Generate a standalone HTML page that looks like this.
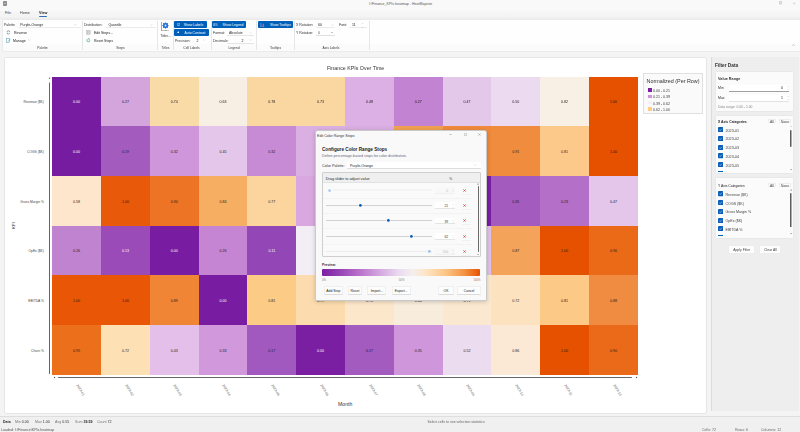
<!DOCTYPE html>
<html><head><meta charset="utf-8"><title>HeatMapster</title><style>*{box-sizing:border-box;margin:0;padding:0}
html,body{width:800px;height:432px;overflow:hidden}
body{position:relative;background:#f4f4f4;font-family:"Liberation Sans",sans-serif;color:#1b1b1b;font-size:3.5px}
.a{position:absolute;white-space:nowrap;line-height:1}
.b{position:absolute}
.chev{position:absolute;width:1.8px;height:1.8px;border-right:0.4px solid #777;border-bottom:0.4px solid #777;transform:rotate(45deg)}
.xlab{position:absolute;font-size:3.5px;color:#555;white-space:nowrap;line-height:1;transform-origin:0 0;transform:rotate(60deg)}
</style></head><body>
<div id="root" style="position:absolute;left:0;top:0;width:800px;height:432px;filter:blur(0.3px)"><div class="b" style="left:0.00px;top:0.00px;width:800.00px;height:11.00px;background:#f9f9f9"></div>
<div class="b" style="left:0.00px;top:11.00px;width:800.00px;height:8.00px;background:linear-gradient(#f6f6f6,#f4f4f4 70%,#ececec)"></div>
<div class="b" style="left:2.60px;top:1.40px;width:4.40px;height:4.20px;background:#8e8e8e;border-radius:0.8px"></div>
<div class="b" style="left:3.80px;top:2.60px;width:2.00px;height:1.80px;background:#bdbdbd"></div>
<div class="a" style="left:369.00px;top:3.37px;font-size:3.56px;color:#555;">I:\Finance_KPIs.heatmap - HeatMapster</div>
<svg class="b" style="left:779px;top:1.4px" width="2.8" height="3.4" viewBox="0 0 28 34"><rect x="3" y="3" width="22" height="28" rx="3" fill="#e4e4e4" stroke="#a8a8a8" stroke-width="4"/></svg>
<svg class="b" style="left:793.4px;top:1.6px" width="3" height="3" viewBox="0 0 30 30"><path d="M4 3V27" stroke="#c8c8c8" stroke-width="4"/><path d="M9 4L26 15 9 26Z" fill="#cfcfcf"/></svg>
<div class="a" style="left:5.00px;top:12.07px;font-size:3.7px;color:#444;">File</div>
<div class="a" style="left:20.00px;top:12.07px;font-size:3.7px;color:#444;">Home</div>
<div class="a" style="left:39.00px;top:12.07px;font-size:3.7px;color:#1a1a1a;font-weight:bold;">View</div>
<div class="b" style="left:39.20px;top:16.20px;width:7.60px;height:0.80px;background:#2f6db5;border-radius:0.4px"></div>
<div class="b" style="left:2.00px;top:19.00px;width:800.00px;height:33.00px;background:linear-gradient(#fefefe,#fefefe 74%,#fbfbfb 80%,#fbfbfb);border:1px solid #ebebeb;border-radius:2px"></div>
<div class="a" style="left:4.00px;top:24.17px;font-size:3.5px;color:#333;">Palette</div>
<div class="b" style="left:18.00px;top:21.80px;width:63.00px;height:6.40px;background:#fff;border-bottom:0.5px solid #ebebeb;border-radius:0.8px"></div>
<div class="a" style="left:20.20px;top:24.17px;font-size:3.5px;color:#222;">Purple-Orange</div>
<svg class="b" style="left:74.10px;top:23.60px" width="2.8" height="2" viewBox="0 0 28 20"><path d="M3 5l11 10 11-10" fill="none" stroke="#888" stroke-width="3"/></svg>
<svg class="b" style="left:5.6px;top:30.2px" width="4.8" height="4.8" viewBox="0 0 48 48"><path d="M9 22A15 15 0 0 1 38 17" fill="none" stroke="#6a6a6a" stroke-width="6"/><path d="M39 26A15 15 0 0 1 10 31" fill="none" stroke="#3d8ea8" stroke-width="6"/><path d="M33 9l7 9-10 2z" fill="#6a6a6a"/><path d="M15 39l-7-9 10-2z" fill="#3d8ea8"/></svg>
<div class="a" style="left:14.00px;top:32.37px;font-size:3.5px;">Reverse</div>
<svg class="b" style="left:5.5px;top:38.2px" width="5" height="5" viewBox="0 0 10 10"><rect x="1" y="1.5" width="6.5" height="7" fill="none" stroke="#3a8fb0" stroke-width="0.9"/><path d="M4 7l4.5-4.5" stroke="#2a9a9a" stroke-width="1.2"/></svg>
<div class="a" style="left:13.00px;top:40.37px;font-size:3.5px;">Manage</div>
<svg class="b" style="left:28.10px;top:39.30px" width="2.8" height="2" viewBox="0 0 28 20"><path d="M3 5l11 10 11-10" fill="none" stroke="#999" stroke-width="3"/></svg>
<div class="a" style="left:42.50px;top:47.07px;font-size:3.3px;color:#3a3a3a;transform:translateX(-50%);">Palette</div>
<div class="b" style="left:82.40px;top:21.00px;width:0.60px;height:29.00px;background:#e6e6e6"></div>
<div class="a" style="left:84.00px;top:24.17px;font-size:3.5px;color:#333;">Distribution:</div>
<div class="b" style="left:106.00px;top:21.80px;width:50.00px;height:6.40px;background:#fff;border-bottom:0.5px solid #ebebeb;border-radius:0.8px"></div>
<div class="a" style="left:108.40px;top:24.17px;font-size:3.5px;color:#222;">Quantile</div>
<svg class="b" style="left:149.80px;top:23.60px" width="2.8" height="2" viewBox="0 0 28 20"><path d="M3 5l11 10 11-10" fill="none" stroke="#aaa" stroke-width="3"/></svg>
<svg class="b" style="left:85.6px;top:30.2px" width="5" height="5" viewBox="0 0 10 10"><rect x="1" y="1" width="3" height="8" fill="#cfcfcf" stroke="#999" stroke-width="0.5"/><rect x="5.5" y="1" width="3" height="8" fill="#cfcfcf" stroke="#999" stroke-width="0.5"/></svg>
<div class="a" style="left:94.00px;top:32.37px;font-size:3.5px;">Edit Steps...</div>
<svg class="b" style="left:85.6px;top:38.2px" width="5" height="5" viewBox="0 0 10 10"><path d="M7.8 4.4a3 3 0 1 1-1.2-2.2" fill="none" stroke="#2aa05a" stroke-width="1.2"/><path d="M5.3 0.8l1.9 1.5-1.7 1.5" fill="none" stroke="#2aa05a" stroke-width="1"/></svg>
<div class="a" style="left:94.00px;top:40.37px;font-size:3.5px;">Reset Steps</div>
<div class="a" style="left:120.50px;top:47.07px;font-size:3.3px;color:#3a3a3a;transform:translateX(-50%);">Steps</div>
<div class="b" style="left:157.40px;top:21.00px;width:0.60px;height:29.00px;background:#e6e6e6"></div>
<div class="b" style="left:161.30px;top:21.80px;width:1.00px;height:8.60px;background:#a8a8a8"></div>
<svg class="b" style="left:161.3px;top:29.6px" width="8" height="1.2" viewBox="0 0 80 12"><path d="M2 6H78" stroke="#555" stroke-width="8" stroke-dasharray="8 5"/></svg>
<svg class="b" style="left:162.4px;top:22.3px" width="7" height="7" viewBox="0 0 70 70"><g fill="#1c6fd1" transform="translate(35 35)"><circle r="25"/><rect x="-6" y="-31" width="12" height="14" rx="3" transform="rotate(0)"/><rect x="-6" y="-31" width="12" height="14" rx="3" transform="rotate(45)"/><rect x="-6" y="-31" width="12" height="14" rx="3" transform="rotate(90)"/><rect x="-6" y="-31" width="12" height="14" rx="3" transform="rotate(135)"/><rect x="-6" y="-31" width="12" height="14" rx="3" transform="rotate(180)"/><rect x="-6" y="-31" width="12" height="14" rx="3" transform="rotate(225)"/><rect x="-6" y="-31" width="12" height="14" rx="3" transform="rotate(270)"/><rect x="-6" y="-31" width="12" height="14" rx="3" transform="rotate(315)"/></g><circle cx="35" cy="35" r="9" fill="#e8f0fb"/></svg>
<div class="a" style="left:160.20px;top:34.87px;font-size:3.3px;color:#333;">Titles...</div>
<div class="a" style="left:165.50px;top:47.07px;font-size:3.3px;color:#3a3a3a;transform:translateX(-50%);">Titles</div>
<div class="b" style="left:172.50px;top:21.00px;width:0.60px;height:29.00px;background:#e6e6e6"></div>
<div class="b" style="left:174.20px;top:21.30px;width:32.50px;height:6.45px;background:#005fb8;border-radius:1px"></div>
<div class="a" style="left:183.70px;top:24.40px;font-size:3.4px;color:#fff;">Show Labels</div>
<svg class="b" style="left:176.8px;top:23.2px" width="3.4" height="3" viewBox="0 0 34 30"><rect x="3" y="3" width="28" height="24" rx="4" fill="none" stroke="#fff" stroke-width="4"/><path d="M9 15l5 5 10-10" fill="none" stroke="#fff" stroke-width="4"/></svg>
<div class="b" style="left:174.20px;top:29.20px;width:35.30px;height:6.45px;background:#005fb8;border-radius:1px"></div>
<div class="a" style="left:184.60px;top:32.29px;font-size:3.4px;color:#fff;">Auto Contrast</div>
<svg class="b" style="left:176.6px;top:30.5px" width="2.6" height="2.6" viewBox="0 0 26 26"><circle cx="13" cy="13" r="9" fill="#fff"/></svg>
<div class="a" style="left:175.00px;top:40.47px;font-size:3.5px;color:#333;">Precision:</div>
<div class="a" style="left:196.60px;top:40.47px;font-size:3.5px;">2</div>
<svg class="b" style="left:203.10px;top:39.40px" width="2.8" height="2" viewBox="0 0 28 20"><path d="M3 5l11 10 11-10" fill="none" stroke="#aaa" stroke-width="3"/></svg>
<div class="a" style="left:191.50px;top:47.07px;font-size:3.3px;color:#3a3a3a;transform:translateX(-50%);">Cell Labels</div>
<div class="b" style="left:210.60px;top:21.00px;width:0.60px;height:29.00px;background:#e6e6e6"></div>
<div class="b" style="left:212.00px;top:21.20px;width:34.30px;height:6.50px;background:#005fb8;border-radius:1px"></div>
<div class="a" style="left:222.60px;top:24.32px;font-size:3.4px;color:#fff;">Show Legend</div>
<svg class="b" style="left:213.4px;top:22.6px" width="4.4" height="3.8" viewBox="0 0 44 38"><rect x="3" y="3" width="38" height="32" rx="3" fill="none" stroke="#dfe9f7" stroke-width="3.5"/><path d="M14 3V35M3 14H41M3 25H41" stroke="#dfe9f7" stroke-width="3"/></svg>
<div class="a" style="left:213.00px;top:32.37px;font-size:3.5px;color:#333;">Format:</div>
<div class="b" style="left:227.00px;top:29.60px;width:27.00px;height:6.10px;background:transparent;border-bottom:0.5px solid #e4e4e4;border-radius:0.8px"></div>
<div class="a" style="left:229.00px;top:32.37px;font-size:3.5px;color:#333;">Absolute</div>
<svg class="b" style="left:249.10px;top:31.50px" width="2.8" height="2" viewBox="0 0 28 20"><path d="M3 5l11 10 11-10" fill="none" stroke="#aaa" stroke-width="3"/></svg>
<div class="a" style="left:213.00px;top:40.37px;font-size:3.5px;color:#333;">Decimals:</div>
<div class="b" style="left:227.00px;top:37.60px;width:27.00px;height:6.10px;background:transparent;border-bottom:0.5px solid #e4e4e4;border-radius:0.8px"></div>
<div class="a" style="left:241.60px;top:40.37px;font-size:3.5px;">2</div>
<svg class="b" style="left:249.10px;top:39.20px" width="2.8" height="2" viewBox="0 0 28 20"><path d="M3 5l11 10 11-10" fill="none" stroke="#aaa" stroke-width="3"/></svg>
<div class="a" style="left:234.00px;top:47.07px;font-size:3.3px;color:#3a3a3a;transform:translateX(-50%);">Legend</div>
<div class="b" style="left:256.40px;top:21.00px;width:0.60px;height:29.00px;background:#e6e6e6"></div>
<div class="b" style="left:258.00px;top:21.20px;width:34.80px;height:6.50px;background:#005fb8;border-radius:1px"></div>
<div class="a" style="left:270.00px;top:24.32px;font-size:3.4px;color:#fff;">Show Tooltips</div>
<svg class="b" style="left:259.8px;top:21.8px" width="5" height="5.4" viewBox="0 0 10 11"><rect x="1" y="2" width="1.5" height="8" fill="#6ab0f0"/><rect x="3.5" y="5" width="1.5" height="5" fill="#e04a6a"/><rect x="6" y="3.5" width="1.5" height="6.5" fill="#40c0a0"/><path d="M1 10h8" stroke="#ccc" stroke-width="0.6"/></svg>
<div class="a" style="left:275.50px;top:47.07px;font-size:3.3px;color:#3a3a3a;transform:translateX(-50%);">Tooltips</div>
<div class="b" style="left:294.30px;top:21.00px;width:0.60px;height:29.00px;background:#e6e6e6"></div>
<div class="a" style="left:296.00px;top:24.17px;font-size:3.5px;color:#333;">X Rotation:</div>
<div class="b" style="left:316.00px;top:22.00px;width:18.50px;height:6.30px;background:#fff;border-bottom:0.5px solid #ebebeb;border-radius:0.8px"></div>
<div class="a" style="left:318.00px;top:24.17px;font-size:3.5px;">60</div>
<svg class="b" style="left:330.90px;top:23.60px" width="2.8" height="2" viewBox="0 0 28 20"><path d="M3 5l11 10 11-10" fill="none" stroke="#aaa" stroke-width="3"/></svg>
<div class="a" style="left:339.00px;top:24.17px;font-size:3.5px;color:#333;">Font:</div>
<div class="b" style="left:349.00px;top:22.00px;width:18.00px;height:6.30px;background:#fff;border-bottom:0.5px solid #ebebeb;border-radius:0.8px"></div>
<div class="a" style="left:352.00px;top:24.17px;font-size:3.5px;">11</div>
<div class="a" style="left:362.00px;top:22.00px;font-size:2.2px;color:#999;">&#x2C4;</div>
<div class="a" style="left:362.00px;top:25.60px;font-size:2.2px;color:#999;">&#x2C5;</div>
<div class="a" style="left:296.00px;top:32.37px;font-size:3.5px;color:#333;">Y Rotation:</div>
<div class="b" style="left:316.00px;top:29.60px;width:18.50px;height:6.30px;background:transparent;border-bottom:0.5px solid #dedede;border-radius:0.8px"></div>
<div class="a" style="left:318.00px;top:32.37px;font-size:3.5px;color:#555;">0</div>
<div class="b" style="left:330.60px;top:32.00px;width:2.60px;height:1.00px;background:#c4c4c4"></div>
<div class="a" style="left:331.00px;top:47.07px;font-size:3.3px;color:#3a3a3a;transform:translateX(-50%);">Axis Labels</div>
<div class="b" style="left:369.20px;top:21.00px;width:0.60px;height:29.00px;background:#e6e6e6"></div>
<svg class="b" style="left:792.2px;top:44.3px" width="3.2" height="2.2" viewBox="0 0 32 22"><path d="M3 18L16 5 29 18" fill="none" stroke="#777" stroke-width="4"/></svg>
<div class="b" style="left:4.00px;top:57.40px;width:703.00px;height:356.40px;background:#fff;border:1px solid #e6e6e6;border-radius:2px"></div>
<div class="b" style="left:5.00px;top:58.40px;width:698.00px;height:353.00px;background:#fff"></div>
<div class="a" style="left:355.60px;top:65.62px;font-size:5.3px;color:#333;transform:translateX(-50%);">Finance KPIs Over Time</div>
<div class="b" style="left:52.20px;top:76.70px;width:49.20px;height:50.07px;background:#761ca0"></div>
<div class="b" style="left:101.00px;top:76.70px;width:49.20px;height:50.07px;background:#d4a4dc"></div>
<div class="b" style="left:149.80px;top:76.70px;width:49.20px;height:50.07px;background:#f9dba8"></div>
<div class="b" style="left:198.60px;top:76.70px;width:49.20px;height:50.07px;background:#f7efe4"></div>
<div class="b" style="left:247.40px;top:76.70px;width:49.20px;height:50.07px;background:#fad7a1"></div>
<div class="b" style="left:296.20px;top:76.70px;width:49.20px;height:50.07px;background:#fad7a1"></div>
<div class="b" style="left:345.00px;top:76.70px;width:49.20px;height:50.07px;background:#dcb0e4"></div>
<div class="b" style="left:393.80px;top:76.70px;width:49.20px;height:50.07px;background:#c283d2"></div>
<div class="b" style="left:442.60px;top:76.70px;width:49.20px;height:50.07px;background:#e3c8ea"></div>
<div class="b" style="left:491.40px;top:76.70px;width:49.20px;height:50.07px;background:#ecdaf0"></div>
<div class="b" style="left:540.20px;top:76.70px;width:49.20px;height:50.07px;background:#f8f0e5"></div>
<div class="b" style="left:589.00px;top:76.70px;width:49.20px;height:50.07px;background:#e65100"></div>
<div class="b" style="left:52.20px;top:126.37px;width:49.20px;height:50.07px;background:#761ca0"></div>
<div class="b" style="left:101.00px;top:126.37px;width:49.20px;height:50.07px;background:#a35cbd"></div>
<div class="b" style="left:149.80px;top:126.37px;width:49.20px;height:50.07px;background:#cf96db"></div>
<div class="b" style="left:198.60px;top:126.37px;width:49.20px;height:50.07px;background:#e4c6ea"></div>
<div class="b" style="left:247.40px;top:126.37px;width:49.20px;height:50.07px;background:#c68bd4"></div>
<div class="b" style="left:296.20px;top:126.37px;width:49.20px;height:50.07px;background:#dab0e2"></div>
<div class="b" style="left:345.00px;top:126.37px;width:49.20px;height:50.07px;background:#d8aee0"></div>
<div class="b" style="left:393.80px;top:126.37px;width:49.20px;height:50.07px;background:#f0a050"></div>
<div class="b" style="left:442.60px;top:126.37px;width:49.20px;height:50.07px;background:#ef8a3c"></div>
<div class="b" style="left:491.40px;top:126.37px;width:49.20px;height:50.07px;background:#f08c3e"></div>
<div class="b" style="left:540.20px;top:126.37px;width:49.20px;height:50.07px;background:#fcc98a"></div>
<div class="b" style="left:589.00px;top:126.37px;width:49.20px;height:50.07px;background:#e65100"></div>
<div class="b" style="left:52.20px;top:176.04px;width:49.20px;height:50.07px;background:#fde6cc"></div>
<div class="b" style="left:101.00px;top:176.04px;width:49.20px;height:50.07px;background:#e85a0a"></div>
<div class="b" style="left:149.80px;top:176.04px;width:49.20px;height:50.07px;background:#ec7424"></div>
<div class="b" style="left:198.60px;top:176.04px;width:49.20px;height:50.07px;background:#f6ae62"></div>
<div class="b" style="left:247.40px;top:176.04px;width:49.20px;height:50.07px;background:#fbd49e"></div>
<div class="b" style="left:296.20px;top:176.04px;width:49.20px;height:50.07px;background:#d9a8e0"></div>
<div class="b" style="left:345.00px;top:176.04px;width:49.20px;height:50.07px;background:#d9a8e0"></div>
<div class="b" style="left:393.80px;top:176.04px;width:49.20px;height:50.07px;background:#e8c8ec"></div>
<div class="b" style="left:442.60px;top:176.04px;width:49.20px;height:50.07px;background:#7a1ea2"></div>
<div class="b" style="left:491.40px;top:176.04px;width:49.20px;height:50.07px;background:#a35bbd"></div>
<div class="b" style="left:540.20px;top:176.04px;width:49.20px;height:50.07px;background:#b46fc8"></div>
<div class="b" style="left:589.00px;top:176.04px;width:49.20px;height:50.07px;background:#e4c6ea"></div>
<div class="b" style="left:52.20px;top:225.71px;width:49.20px;height:50.07px;background:#c083d0"></div>
<div class="b" style="left:101.00px;top:225.71px;width:49.20px;height:50.07px;background:#9a4bb8"></div>
<div class="b" style="left:149.80px;top:225.71px;width:49.20px;height:50.07px;background:#781ca1"></div>
<div class="b" style="left:198.60px;top:225.71px;width:49.20px;height:50.07px;background:#c685d3"></div>
<div class="b" style="left:247.40px;top:225.71px;width:49.20px;height:50.07px;background:#9346b5"></div>
<div class="b" style="left:296.20px;top:225.71px;width:49.20px;height:50.07px;background:#f3eef5"></div>
<div class="b" style="left:345.00px;top:225.71px;width:49.20px;height:50.07px;background:#f3eef5"></div>
<div class="b" style="left:393.80px;top:225.71px;width:49.20px;height:50.07px;background:#f3eef5"></div>
<div class="b" style="left:442.60px;top:225.71px;width:49.20px;height:50.07px;background:#e0c0e8"></div>
<div class="b" style="left:491.40px;top:225.71px;width:49.20px;height:50.07px;background:#f4a45a"></div>
<div class="b" style="left:540.20px;top:225.71px;width:49.20px;height:50.07px;background:#e65100"></div>
<div class="b" style="left:589.00px;top:225.71px;width:49.20px;height:50.07px;background:#ea6a18"></div>
<div class="b" style="left:52.20px;top:275.38px;width:49.20px;height:50.07px;background:#e85606"></div>
<div class="b" style="left:101.00px;top:275.38px;width:49.20px;height:50.07px;background:#e85606"></div>
<div class="b" style="left:149.80px;top:275.38px;width:49.20px;height:50.07px;background:#f08535"></div>
<div class="b" style="left:198.60px;top:275.38px;width:49.20px;height:50.07px;background:#781ca1"></div>
<div class="b" style="left:247.40px;top:275.38px;width:49.20px;height:50.07px;background:#fccb86"></div>
<div class="b" style="left:296.20px;top:275.38px;width:49.20px;height:50.07px;background:#fcdcae"></div>
<div class="b" style="left:345.00px;top:275.38px;width:49.20px;height:50.07px;background:#fde7cb"></div>
<div class="b" style="left:393.80px;top:275.38px;width:49.20px;height:50.07px;background:#f8ecdc"></div>
<div class="b" style="left:442.60px;top:275.38px;width:49.20px;height:50.07px;background:#fbe8d0"></div>
<div class="b" style="left:491.40px;top:275.38px;width:49.20px;height:50.07px;background:#fde2c0"></div>
<div class="b" style="left:540.20px;top:275.38px;width:49.20px;height:50.07px;background:#fcc987"></div>
<div class="b" style="left:589.00px;top:275.38px;width:49.20px;height:50.07px;background:#f08c42"></div>
<div class="b" style="left:52.20px;top:325.05px;width:49.20px;height:50.07px;background:#ec6f1c"></div>
<div class="b" style="left:101.00px;top:325.05px;width:49.20px;height:50.07px;background:#fde0b4"></div>
<div class="b" style="left:149.80px;top:325.05px;width:49.20px;height:50.07px;background:#e4bfe9"></div>
<div class="b" style="left:198.60px;top:325.05px;width:49.20px;height:50.07px;background:#d198dc"></div>
<div class="b" style="left:247.40px;top:325.05px;width:49.20px;height:50.07px;background:#a159bf"></div>
<div class="b" style="left:296.20px;top:325.05px;width:49.20px;height:50.07px;background:#7a1ea2"></div>
<div class="b" style="left:345.00px;top:325.05px;width:49.20px;height:50.07px;background:#a35bbf"></div>
<div class="b" style="left:393.80px;top:325.05px;width:49.20px;height:50.07px;background:#cf96db"></div>
<div class="b" style="left:442.60px;top:325.05px;width:49.20px;height:50.07px;background:#ecdcf0"></div>
<div class="b" style="left:491.40px;top:325.05px;width:49.20px;height:50.07px;background:#fbe9d6"></div>
<div class="b" style="left:540.20px;top:325.05px;width:49.20px;height:50.07px;background:#e65100"></div>
<div class="b" style="left:589.00px;top:325.05px;width:49.20px;height:50.07px;background:#ea6a1a"></div>
<div class="a" style="left:76.60px;top:101.41px;font-size:3.6px;color:#ffffff;transform:translateX(-50%);">0.00</div>
<div class="a" style="left:125.40px;top:101.41px;font-size:3.6px;color:#1e1a1a;transform:translateX(-50%);">0.27</div>
<div class="a" style="left:174.20px;top:101.41px;font-size:3.6px;color:#1e1a1a;transform:translateX(-50%);">0.74</div>
<div class="a" style="left:223.00px;top:101.41px;font-size:3.6px;color:#1e1a1a;transform:translateX(-50%);">0.63</div>
<div class="a" style="left:271.80px;top:101.41px;font-size:3.6px;color:#1e1a1a;transform:translateX(-50%);">0.78</div>
<div class="a" style="left:320.60px;top:101.41px;font-size:3.6px;color:#1e1a1a;transform:translateX(-50%);">0.73</div>
<div class="a" style="left:369.40px;top:101.41px;font-size:3.6px;color:#1e1a1a;transform:translateX(-50%);">0.48</div>
<div class="a" style="left:418.20px;top:101.41px;font-size:3.6px;color:#1e1a1a;transform:translateX(-50%);">0.27</div>
<div class="a" style="left:467.00px;top:101.41px;font-size:3.6px;color:#1e1a1a;transform:translateX(-50%);">0.47</div>
<div class="a" style="left:515.80px;top:101.41px;font-size:3.6px;color:#1e1a1a;transform:translateX(-50%);">0.50</div>
<div class="a" style="left:564.60px;top:101.41px;font-size:3.6px;color:#1e1a1a;transform:translateX(-50%);">0.82</div>
<div class="a" style="left:613.40px;top:101.41px;font-size:3.6px;color:#1e1a1a;transform:translateX(-50%);">1.00</div>
<div class="a" style="left:76.60px;top:151.08px;font-size:3.6px;color:#ffffff;transform:translateX(-50%);">0.00</div>
<div class="a" style="left:125.40px;top:151.08px;font-size:3.6px;color:#1e1a1a;transform:translateX(-50%);">0.19</div>
<div class="a" style="left:174.20px;top:151.08px;font-size:3.6px;color:#1e1a1a;transform:translateX(-50%);">0.32</div>
<div class="a" style="left:223.00px;top:151.08px;font-size:3.6px;color:#1e1a1a;transform:translateX(-50%);">0.45</div>
<div class="a" style="left:271.80px;top:151.08px;font-size:3.6px;color:#1e1a1a;transform:translateX(-50%);">0.32</div>
<div class="a" style="left:320.60px;top:151.08px;font-size:3.6px;color:#1e1a1a;transform:translateX(-50%);">0.41</div>
<div class="a" style="left:369.40px;top:151.08px;font-size:3.6px;color:#1e1a1a;transform:translateX(-50%);">0.44</div>
<div class="a" style="left:418.20px;top:151.08px;font-size:3.6px;color:#1e1a1a;transform:translateX(-50%);">0.86</div>
<div class="a" style="left:467.00px;top:151.08px;font-size:3.6px;color:#1e1a1a;transform:translateX(-50%);">0.90</div>
<div class="a" style="left:515.80px;top:151.08px;font-size:3.6px;color:#1e1a1a;transform:translateX(-50%);">0.91</div>
<div class="a" style="left:564.60px;top:151.08px;font-size:3.6px;color:#1e1a1a;transform:translateX(-50%);">0.81</div>
<div class="a" style="left:613.40px;top:151.08px;font-size:3.6px;color:#1e1a1a;transform:translateX(-50%);">1.00</div>
<div class="a" style="left:76.60px;top:200.75px;font-size:3.6px;color:#1e1a1a;transform:translateX(-50%);">0.58</div>
<div class="a" style="left:125.40px;top:200.75px;font-size:3.6px;color:#1e1a1a;transform:translateX(-50%);">1.00</div>
<div class="a" style="left:174.20px;top:200.75px;font-size:3.6px;color:#1e1a1a;transform:translateX(-50%);">0.90</div>
<div class="a" style="left:223.00px;top:200.75px;font-size:3.6px;color:#1e1a1a;transform:translateX(-50%);">0.84</div>
<div class="a" style="left:271.80px;top:200.75px;font-size:3.6px;color:#1e1a1a;transform:translateX(-50%);">0.77</div>
<div class="a" style="left:320.60px;top:200.75px;font-size:3.6px;color:#1e1a1a;transform:translateX(-50%);">0.42</div>
<div class="a" style="left:369.40px;top:200.75px;font-size:3.6px;color:#1e1a1a;transform:translateX(-50%);">0.40</div>
<div class="a" style="left:418.20px;top:200.75px;font-size:3.6px;color:#1e1a1a;transform:translateX(-50%);">0.52</div>
<div class="a" style="left:467.00px;top:200.75px;font-size:3.6px;color:#ffffff;transform:translateX(-50%);">0.00</div>
<div class="a" style="left:515.80px;top:200.75px;font-size:3.6px;color:#1e1a1a;transform:translateX(-50%);">0.35</div>
<div class="a" style="left:564.60px;top:200.75px;font-size:3.6px;color:#1e1a1a;transform:translateX(-50%);">0.23</div>
<div class="a" style="left:613.40px;top:200.75px;font-size:3.6px;color:#1e1a1a;transform:translateX(-50%);">0.47</div>
<div class="a" style="left:76.60px;top:250.41px;font-size:3.6px;color:#1e1a1a;transform:translateX(-50%);">0.26</div>
<div class="a" style="left:125.40px;top:250.41px;font-size:3.6px;color:#ffffff;transform:translateX(-50%);">0.13</div>
<div class="a" style="left:174.20px;top:250.41px;font-size:3.6px;color:#ffffff;transform:translateX(-50%);">0.00</div>
<div class="a" style="left:223.00px;top:250.41px;font-size:3.6px;color:#1e1a1a;transform:translateX(-50%);">0.26</div>
<div class="a" style="left:271.80px;top:250.41px;font-size:3.6px;color:#ffffff;transform:translateX(-50%);">0.11</div>
<div class="a" style="left:320.60px;top:250.41px;font-size:3.6px;color:#1e1a1a;transform:translateX(-50%);">0.52</div>
<div class="a" style="left:369.40px;top:250.41px;font-size:3.6px;color:#1e1a1a;transform:translateX(-50%);">0.60</div>
<div class="a" style="left:418.20px;top:250.41px;font-size:3.6px;color:#1e1a1a;transform:translateX(-50%);">0.64</div>
<div class="a" style="left:467.00px;top:250.41px;font-size:3.6px;color:#1e1a1a;transform:translateX(-50%);">0.44</div>
<div class="a" style="left:515.80px;top:250.41px;font-size:3.6px;color:#1e1a1a;transform:translateX(-50%);">0.87</div>
<div class="a" style="left:564.60px;top:250.41px;font-size:3.6px;color:#1e1a1a;transform:translateX(-50%);">1.00</div>
<div class="a" style="left:613.40px;top:250.41px;font-size:3.6px;color:#1e1a1a;transform:translateX(-50%);">0.96</div>
<div class="a" style="left:76.60px;top:300.08px;font-size:3.6px;color:#1e1a1a;transform:translateX(-50%);">1.00</div>
<div class="a" style="left:125.40px;top:300.08px;font-size:3.6px;color:#1e1a1a;transform:translateX(-50%);">1.00</div>
<div class="a" style="left:174.20px;top:300.08px;font-size:3.6px;color:#1e1a1a;transform:translateX(-50%);">0.89</div>
<div class="a" style="left:223.00px;top:300.08px;font-size:3.6px;color:#ffffff;transform:translateX(-50%);">0.00</div>
<div class="a" style="left:271.80px;top:300.08px;font-size:3.6px;color:#1e1a1a;transform:translateX(-50%);">0.81</div>
<div class="a" style="left:320.60px;top:300.08px;font-size:3.6px;color:#1e1a1a;transform:translateX(-50%);">0.79</div>
<div class="a" style="left:369.40px;top:300.08px;font-size:3.6px;color:#1e1a1a;transform:translateX(-50%);">0.70</div>
<div class="a" style="left:418.20px;top:300.08px;font-size:3.6px;color:#1e1a1a;transform:translateX(-50%);">0.64</div>
<div class="a" style="left:467.00px;top:300.08px;font-size:3.6px;color:#1e1a1a;transform:translateX(-50%);">0.71</div>
<div class="a" style="left:515.80px;top:300.08px;font-size:3.6px;color:#1e1a1a;transform:translateX(-50%);">0.72</div>
<div class="a" style="left:564.60px;top:300.08px;font-size:3.6px;color:#1e1a1a;transform:translateX(-50%);">0.81</div>
<div class="a" style="left:613.40px;top:300.08px;font-size:3.6px;color:#1e1a1a;transform:translateX(-50%);">0.88</div>
<div class="a" style="left:76.60px;top:349.75px;font-size:3.6px;color:#1e1a1a;transform:translateX(-50%);">0.95</div>
<div class="a" style="left:125.40px;top:349.75px;font-size:3.6px;color:#1e1a1a;transform:translateX(-50%);">0.72</div>
<div class="a" style="left:174.20px;top:349.75px;font-size:3.6px;color:#1e1a1a;transform:translateX(-50%);">0.43</div>
<div class="a" style="left:223.00px;top:349.75px;font-size:3.6px;color:#1e1a1a;transform:translateX(-50%);">0.33</div>
<div class="a" style="left:271.80px;top:349.75px;font-size:3.6px;color:#1e1a1a;transform:translateX(-50%);">0.17</div>
<div class="a" style="left:320.60px;top:349.75px;font-size:3.6px;color:#ffffff;transform:translateX(-50%);">0.00</div>
<div class="a" style="left:369.40px;top:349.75px;font-size:3.6px;color:#1e1a1a;transform:translateX(-50%);">0.17</div>
<div class="a" style="left:418.20px;top:349.75px;font-size:3.6px;color:#1e1a1a;transform:translateX(-50%);">0.35</div>
<div class="a" style="left:467.00px;top:349.75px;font-size:3.6px;color:#1e1a1a;transform:translateX(-50%);">0.52</div>
<div class="a" style="left:515.80px;top:349.75px;font-size:3.6px;color:#1e1a1a;transform:translateX(-50%);">0.86</div>
<div class="a" style="left:564.60px;top:349.75px;font-size:3.6px;color:#1e1a1a;transform:translateX(-50%);">1.00</div>
<div class="a" style="left:613.40px;top:349.75px;font-size:3.6px;color:#1e1a1a;transform:translateX(-50%);">0.90</div>
<svg class="b" style="left:48.6px;top:81.8px" width="1.6" height="292" viewBox="0 0 16 2920"><rect x="1" width="14" height="2920" fill="#555"/></svg>
<svg class="b" style="left:48px;top:77.4px" width="3" height="3" viewBox="0 0 30 30"><circle cx="15" cy="12" r="7" fill="#6a6a78"/></svg>
<svg class="b" style="left:48px;top:372px" width="3" height="3" viewBox="0 0 30 30"><circle cx="15" cy="15" r="6" fill="#6a6a6a"/></svg>
<svg class="b" style="left:57px;top:376.7px" width="576" height="1.6" viewBox="0 0 5760 16"><rect y="1" width="5760" height="14" fill="#555"/></svg>
<svg class="b" style="left:52.5px;top:376px" width="3" height="3" viewBox="0 0 30 30"><circle cx="15" cy="15" r="7" fill="#5a5a6a"/></svg>
<svg class="b" style="left:634.5px;top:376px" width="3" height="3" viewBox="0 0 30 30"><circle cx="15" cy="15" r="7" fill="#5a5a6a"/></svg>
<div class="a" style="left:43.90px;top:101.41px;font-size:3.3px;color:#444;transform:translateX(-100%);">Revenue ($K)</div>
<div class="a" style="left:43.90px;top:151.08px;font-size:3.3px;color:#444;transform:translateX(-100%);">COGS ($K)</div>
<div class="a" style="left:43.90px;top:200.75px;font-size:3.3px;color:#444;transform:translateX(-100%);">Gross Margin %</div>
<div class="a" style="left:43.90px;top:250.41px;font-size:3.3px;color:#444;transform:translateX(-100%);">OpEx ($K)</div>
<div class="a" style="left:43.90px;top:300.08px;font-size:3.3px;color:#444;transform:translateX(-100%);">EBITDA %</div>
<div class="a" style="left:43.90px;top:349.75px;font-size:3.3px;color:#444;transform:translateX(-100%);">Churn %</div>
<div class="xlab" style="left:77.80px;top:383.80px">2023-01</div>
<div class="xlab" style="left:126.60px;top:383.80px">2023-02</div>
<div class="xlab" style="left:175.40px;top:383.80px">2023-03</div>
<div class="xlab" style="left:224.20px;top:383.80px">2023-04</div>
<div class="xlab" style="left:273.00px;top:383.80px">2023-05</div>
<div class="xlab" style="left:321.80px;top:383.80px">2023-06</div>
<div class="xlab" style="left:370.60px;top:383.80px">2023-07</div>
<div class="xlab" style="left:419.40px;top:383.80px">2023-08</div>
<div class="xlab" style="left:468.20px;top:383.80px">2023-09</div>
<div class="xlab" style="left:517.00px;top:383.80px">2023-10</div>
<div class="xlab" style="left:565.80px;top:383.80px">2023-11</div>
<div class="xlab" style="left:614.60px;top:383.80px">2023-12</div>
<div class="a" style="left:345.20px;top:401.72px;font-size:5.1px;color:#333;transform:translateX(-50%);">Month</div>
<div class="a" style="left:11.6px;top:228.5px;font-size:4.3px;color:#333;transform-origin:0 0;transform:rotate(-90deg)">KPI</div>
<div class="b" style="left:643.20px;top:73.30px;width:59.40px;height:40.70px;background:#fafafa;border:0.5px solid #e0e0e0"></div>
<div class="a" style="left:646.50px;top:78.92px;font-size:5.4px;color:#333;">Normalized (Per Row)</div>
<div class="b" style="left:648.30px;top:88.30px;width:3.40px;height:3.40px;background:#7b1fa2"></div>
<div class="a" style="left:653.00px;top:89.87px;font-size:3.55px;color:#3a3a3a;">0.00 - 0.21</div>
<div class="b" style="left:648.30px;top:94.63px;width:3.40px;height:3.40px;background:#ce93d8"></div>
<div class="a" style="left:653.00px;top:96.20px;font-size:3.55px;color:#3a3a3a;">0.21 - 0.39</div>
<div class="b" style="left:648.30px;top:100.96px;width:3.40px;height:3.40px;background:#f6f0f6"></div>
<div class="a" style="left:653.00px;top:102.53px;font-size:3.55px;color:#3a3a3a;">0.39 - 0.62</div>
<div class="b" style="left:648.30px;top:107.29px;width:3.40px;height:3.40px;background:#ffcc80"></div>
<div class="a" style="left:653.00px;top:108.86px;font-size:3.55px;color:#3a3a3a;">0.62 - 1.00</div>
<div class="b" style="left:711.30px;top:56.50px;width:87.40px;height:354.30px;background:#eeeeee;border-left:1px solid #dcdcdc"></div>
<div class="a" style="left:715.00px;top:63.58px;font-size:4.74px;color:#333;font-weight:bold;">Filter Data</div>
<div class="b" style="left:715.00px;top:71.20px;width:79.00px;height:40.50px;background:#fbfbfb;border-radius:1.5px;border:0.4px solid #e8e8e8"></div>
<div class="a" style="left:718.00px;top:77.87px;font-size:3.75px;color:#333;font-weight:bold;">Value Range</div>
<div class="a" style="left:718.00px;top:87.27px;font-size:3.5px;color:#333;">Min</div>
<div class="b" style="left:729.30px;top:84.60px;width:59.70px;height:6.40px;background:#fff"></div>
<div class="b" style="left:729.30px;top:90.60px;width:59.70px;height:1.00px;background:#a0a0a0"></div>
<div class="a" style="left:781.00px;top:87.27px;font-size:3.5px;">0</div>
<div class="a" style="left:787.60px;top:84.60px;font-size:2.2px;color:#999;">&#x2C4;</div>
<div class="a" style="left:787.60px;top:88.20px;font-size:2.2px;color:#999;">&#x2C5;</div>
<div class="a" style="left:718.00px;top:97.37px;font-size:3.5px;color:#333;">Max</div>
<div class="b" style="left:729.30px;top:94.60px;width:59.70px;height:6.40px;background:#fff"></div>
<div class="b" style="left:729.30px;top:100.60px;width:59.70px;height:1.00px;background:#e2e2e2"></div>
<div class="a" style="left:781.00px;top:97.37px;font-size:3.5px;">1</div>
<div class="a" style="left:787.60px;top:94.60px;font-size:2.2px;color:#999;">&#x2C4;</div>
<div class="a" style="left:787.60px;top:98.20px;font-size:2.2px;color:#999;">&#x2C5;</div>
<div class="a" style="left:718.00px;top:105.87px;font-size:3.35px;color:#888;">Data range: 0.00 - 1.00</div>
<div class="b" style="left:715.00px;top:114.50px;width:79.00px;height:59.50px;background:#fbfbfb;border-radius:1.5px;border:0.4px solid #e8e8e8"></div>
<div class="a" style="left:718.00px;top:120.87px;font-size:3.4px;color:#222;font-weight:bold;">X Axis Categories</div>
<div class="b" style="left:767.90px;top:119.00px;width:7.90px;height:4.30px;background:#fdfdfd;border:1px solid #ececec;border-radius:0.8px"></div>
<div class="a" style="left:771.85px;top:121.02px;font-size:3.3px;color:#444;transform:translateX(-50%);">All</div>
<div class="b" style="left:779.20px;top:119.00px;width:11.70px;height:4.30px;background:#fdfdfd;border:1px solid #ececec;border-radius:0.8px"></div>
<div class="a" style="left:785.05px;top:121.02px;font-size:3.3px;color:#444;transform:translateX(-50%);">None</div>
<svg class="b" style="left:718px;top:127.20px" width="5.2" height="5.2" viewBox="0 0 52 52"><rect width="52" height="52" rx="8" fill="#0b5fb6"/><path d="M13 27l9 9 17-19" fill="none" stroke="#fff" stroke-width="4.5"/></svg>
<div class="a" style="left:725.50px;top:129.67px;font-size:3.7px;color:#444;">2023-01</div>
<svg class="b" style="left:718px;top:135.95px" width="5.2" height="5.2" viewBox="0 0 52 52"><rect width="52" height="52" rx="8" fill="#0b5fb6"/><path d="M13 27l9 9 17-19" fill="none" stroke="#fff" stroke-width="4.5"/></svg>
<div class="a" style="left:725.50px;top:138.42px;font-size:3.7px;color:#444;">2023-02</div>
<svg class="b" style="left:718px;top:144.70px" width="5.2" height="5.2" viewBox="0 0 52 52"><rect width="52" height="52" rx="8" fill="#0b5fb6"/><path d="M13 27l9 9 17-19" fill="none" stroke="#fff" stroke-width="4.5"/></svg>
<div class="a" style="left:725.50px;top:147.17px;font-size:3.7px;color:#444;">2023-03</div>
<svg class="b" style="left:718px;top:153.45px" width="5.2" height="5.2" viewBox="0 0 52 52"><rect width="52" height="52" rx="8" fill="#0b5fb6"/><path d="M13 27l9 9 17-19" fill="none" stroke="#fff" stroke-width="4.5"/></svg>
<div class="a" style="left:725.50px;top:155.92px;font-size:3.7px;color:#444;">2023-04</div>
<svg class="b" style="left:718px;top:162.20px" width="5.2" height="5.2" viewBox="0 0 52 52"><rect width="52" height="52" rx="8" fill="#0b5fb6"/><path d="M13 27l9 9 17-19" fill="none" stroke="#fff" stroke-width="4.5"/></svg>
<div class="a" style="left:725.50px;top:164.67px;font-size:3.7px;color:#444;">2023-05</div>
<div class="b" style="left:718.00px;top:170.95px;width:5.20px;height:1.10px;background:#005fb8"></div>
<svg class="b" style="left:789.70px;top:125.60px" width="2.2" height="1.6" viewBox="0 0 22 16"><path d="M2 14L11 3 20 14Z" fill="#666"/></svg>
<svg class="b" style="left:789.70px;top:169.00px" width="2.2" height="1.6" viewBox="0 0 22 16"><path d="M2 2L11 13 20 2Z" fill="#666"/></svg>
<svg class="b" style="left:790.20px;top:129.50px" width="1.5" height="17.00" viewBox="0 0 15 170"><rect width="15" height="170" rx="7" fill="#5c5c5c"/></svg>
<div class="b" style="left:715.00px;top:177.30px;width:79.00px;height:61.70px;background:#fbfbfb;border-radius:1.5px;border:0.4px solid #e8e8e8"></div>
<div class="a" style="left:718.00px;top:184.87px;font-size:3.4px;color:#222;">Y Axis Categories</div>
<div class="b" style="left:767.90px;top:183.00px;width:7.90px;height:4.30px;background:#fdfdfd;border:1px solid #ececec;border-radius:0.8px"></div>
<div class="a" style="left:771.85px;top:185.02px;font-size:3.3px;color:#444;transform:translateX(-50%);">All</div>
<div class="b" style="left:779.20px;top:183.00px;width:11.70px;height:4.30px;background:#fdfdfd;border:1px solid #ececec;border-radius:0.8px"></div>
<div class="a" style="left:785.05px;top:185.02px;font-size:3.3px;color:#444;transform:translateX(-50%);">None</div>
<svg class="b" style="left:718px;top:191.40px" width="5.2" height="5.2" viewBox="0 0 52 52"><rect width="52" height="52" rx="8" fill="#0b5fb6"/><path d="M13 27l9 9 17-19" fill="none" stroke="#fff" stroke-width="4.5"/></svg>
<div class="a" style="left:725.50px;top:193.87px;font-size:3.6px;color:#444;">Revenue ($K)</div>
<svg class="b" style="left:718px;top:200.10px" width="5.2" height="5.2" viewBox="0 0 52 52"><rect width="52" height="52" rx="8" fill="#0b5fb6"/><path d="M13 27l9 9 17-19" fill="none" stroke="#fff" stroke-width="4.5"/></svg>
<div class="a" style="left:725.50px;top:202.57px;font-size:3.6px;color:#444;">COGS ($K)</div>
<svg class="b" style="left:718px;top:208.80px" width="5.2" height="5.2" viewBox="0 0 52 52"><rect width="52" height="52" rx="8" fill="#0b5fb6"/><path d="M13 27l9 9 17-19" fill="none" stroke="#fff" stroke-width="4.5"/></svg>
<div class="a" style="left:725.50px;top:211.27px;font-size:3.6px;color:#444;">Gross Margin %</div>
<svg class="b" style="left:718px;top:217.50px" width="5.2" height="5.2" viewBox="0 0 52 52"><rect width="52" height="52" rx="8" fill="#0b5fb6"/><path d="M13 27l9 9 17-19" fill="none" stroke="#fff" stroke-width="4.5"/></svg>
<div class="a" style="left:725.50px;top:219.97px;font-size:3.6px;color:#444;">OpEx ($K)</div>
<svg class="b" style="left:718px;top:226.20px" width="5.2" height="5.2" viewBox="0 0 52 52"><rect width="52" height="52" rx="8" fill="#0b5fb6"/><path d="M13 27l9 9 17-19" fill="none" stroke="#fff" stroke-width="4.5"/></svg>
<div class="a" style="left:725.50px;top:228.67px;font-size:3.6px;color:#444;">EBITDA %</div>
<div class="b" style="left:718.00px;top:235.00px;width:5.20px;height:1.10px;background:#005fb8"></div>
<svg class="b" style="left:789.70px;top:189.20px" width="2.2" height="1.6" viewBox="0 0 22 16"><path d="M2 14L11 3 20 14Z" fill="#666"/></svg>
<svg class="b" style="left:789.70px;top:233.20px" width="2.2" height="1.6" viewBox="0 0 22 16"><path d="M2 2L11 13 20 2Z" fill="#666"/></svg>
<svg class="b" style="left:790.20px;top:192.70px" width="1.5" height="34.80" viewBox="0 0 15 348"><rect width="15" height="348" rx="7" fill="#5c5c5c"/></svg>
<div class="b" style="left:728.20px;top:245.00px;width:27.00px;height:8.50px;background:#fdfdfd;border:1px solid #ececec;border-radius:0.8px"></div>
<div class="a" style="left:741.70px;top:249.12px;font-size:3.4px;color:#444;transform:translateX(-50%);">Apply Filter</div>
<div class="b" style="left:759.30px;top:245.00px;width:22.20px;height:8.50px;background:#fdfdfd;border:1px solid #ececec;border-radius:0.8px"></div>
<div class="a" style="left:770.40px;top:249.12px;font-size:3.4px;color:#444;transform:translateX(-50%);">Clear All</div>
<div class="b" style="left:0.00px;top:415.80px;width:800.00px;height:16.20px;background:#f0f0f0;border-top:0.6px solid #dedede"></div>
<div class="a" style="left:3.00px;top:421.07px;font-size:3.5px;color:#222;font-weight:bold;">Data</div>
<div class="a" style="left:15.00px;top:421.07px;font-size:3.6px;color:#777;">Min <span style="color:#333">0.00</span></div>
<div class="a" style="left:35.00px;top:421.07px;font-size:3.6px;color:#777;">Max <span style="color:#333">1.00</span></div>
<div class="a" style="left:55.00px;top:421.07px;font-size:3.6px;color:#777;">Avg <span style="color:#333">0.55</span></div>
<div class="a" style="left:75.00px;top:421.07px;font-size:3.6px;color:#777;">Sum <b style="color:#222">39.59</b></div>
<div class="a" style="left:97.00px;top:421.07px;font-size:3.6px;color:#777;">Count <span style="color:#333">72</span></div>
<div class="a" style="left:427.40px;top:421.07px;font-size:3.5px;color:#666;">Select cells to see selection statistics</div>
<div class="a" style="left:1.00px;top:428.87px;font-size:3.6px;color:#555;">Loaded: I:\Finance\KPIs.heatmap</div>
<div class="a" style="left:702.00px;top:428.87px;font-size:3.6px;color:#666;">Cells: 72</div>
<div class="a" style="left:735.00px;top:428.87px;font-size:3.6px;color:#666;">Rows: 6</div>
<div class="a" style="left:761.00px;top:428.87px;font-size:3.6px;color:#666;">Columns: 12</div>
<div class="b" style="left:315.20px;top:129.70px;width:171.80px;height:171.50px;background:#f9f9f9;border:0.5px solid #c9c9c9;border-radius:2.5px 2.5px 1px 1px;box-shadow:0 1px 4px rgba(0,0,0,0.18)"></div>
<div class="a" style="left:317.00px;top:135.07px;font-size:3.6px;color:#333;">Edit Color Range Stops</div>
<svg class="b" style="left:449.2px;top:133.2px" width="3" height="3" viewBox="0 0 30 30"><path d="M2 15H28" stroke="#777" stroke-width="3.5"/></svg>
<svg class="b" style="left:463.5px;top:133.3px" width="3" height="3" viewBox="0 0 30 30"><rect x="2.5" y="2.5" width="25" height="25" rx="3" fill="none" stroke="#777" stroke-width="3.5"/></svg>
<svg class="b" style="left:477.9px;top:133.4px" width="3" height="3" viewBox="0 0 30 30"><path d="M3 3L27 27M27 3L3 27" stroke="#666" stroke-width="3.2"/></svg>
<div class="a" style="left:322.00px;top:147.98px;font-size:4.66px;color:#222;font-weight:bold;">Configure Color Range Stops</div>
<div class="a" style="left:322.00px;top:155.27px;font-size:3.67px;color:#6a6470;">Define percentage-based stops for color distribution.</div>
<div class="a" style="left:322.00px;top:165.07px;font-size:3.75px;color:#333;">Color Palette:</div>
<div class="b" style="left:347.00px;top:162.00px;width:133.50px;height:7.00px;background:#fff;border-radius:0.8px;border-bottom:0.4px solid #ddd"></div>
<div class="a" style="left:350.00px;top:165.07px;font-size:3.5px;color:#222;">Purple-Orange</div>
<svg class="b" style="left:473.90px;top:164.20px" width="2.8" height="2" viewBox="0 0 28 20"><path d="M3 5l11 10 11-10" fill="none" stroke="#aaa" stroke-width="3"/></svg>
<div class="b" style="left:322.00px;top:172.20px;width:158.50px;height:84.80px;background:#fafafa;border:0.5px solid #cfcfcf;border-radius:1px"></div>
<div class="b" style="left:322.50px;top:172.70px;width:157.50px;height:10.30px;background:#efefef;border-bottom:0.4px solid #e2e2e2"></div>
<div class="a" style="left:325.80px;top:177.87px;font-size:3.8px;color:#2a2a2a;">Drag slider to adjust value</div>
<div class="a" style="left:449.20px;top:177.87px;font-size:3.3px;color:#333;">%</div>
<div class="b" style="left:322.50px;top:197.70px;width:150.00px;height:1.00px;background:#f3f3f3"></div>
<div class="b" style="left:322.50px;top:213.00px;width:150.00px;height:1.00px;background:#f3f3f3"></div>
<div class="b" style="left:322.50px;top:228.40px;width:150.00px;height:1.00px;background:#f3f3f3"></div>
<div class="b" style="left:322.50px;top:243.70px;width:150.00px;height:1.00px;background:#f3f3f3"></div>
<div class="b" style="left:333.00px;top:188.90px;width:99.00px;height:2.40px;background:#f4f4f4"></div>
<svg class="b" style="left:327.80px;top:188.50px" width="3.2" height="3.2" viewBox="0 0 32 32"><circle cx="16" cy="16" r="13" fill="#a3c6ec"/></svg>
<div class="b" style="left:434.50px;top:187.10px;width:20.50px;height:6.00px;background:#f8f8f8;border-radius:0.6px"></div>
<div class="b" style="left:434.50px;top:192.60px;width:20.50px;height:1.00px;background:#f0f0f0"></div>
<div class="a" style="left:448.20px;top:189.97px;font-size:3.3px;color:#bbb;transform:translateX(-100%);">0</div>
<div class="a" style="left:452.60px;top:187.90px;font-size:2.0px;color:#aaa;">&#x2C4;</div>
<div class="a" style="left:452.60px;top:190.40px;font-size:2.0px;color:#aaa;">&#x2C5;</div>
<svg class="b" style="left:463.1px;top:188.60px" width="3" height="3" viewBox="0 0 30 30"><path d="M4 4L26 26M26 4L4 26" stroke="#dc2f2f" stroke-width="7.5"/></svg>
<div class="b" style="left:461.50px;top:193.60px;width:9.00px;height:1.00px;background:#f1f1f1"></div>
<div class="b" style="left:326.30px;top:204.90px;width:105.70px;height:1.00px;background:#d2d2d2"></div>
<svg class="b" style="left:357.70px;top:203.00px" width="4.8" height="4.8" viewBox="0 0 48 48"><circle cx="24" cy="24" r="22" fill="#fff" stroke="rgba(0,0,0,0.12)" stroke-width="2"/><circle cx="24" cy="24" r="14" fill="#0a5cb4"/></svg>
<div class="b" style="left:434.50px;top:202.40px;width:20.50px;height:6.00px;background:#fff;border-radius:0.6px"></div>
<div class="b" style="left:434.50px;top:207.90px;width:20.50px;height:1.00px;background:#e4e4e4"></div>
<div class="a" style="left:448.20px;top:205.27px;font-size:3.3px;color:#333;transform:translateX(-100%);">21</div>
<div class="a" style="left:452.60px;top:203.20px;font-size:2.0px;color:#aaa;">&#x2C4;</div>
<div class="a" style="left:452.60px;top:205.70px;font-size:2.0px;color:#aaa;">&#x2C5;</div>
<svg class="b" style="left:463.1px;top:203.90px" width="3" height="3" viewBox="0 0 30 30"><path d="M4 4L26 26M26 4L4 26" stroke="#dc2f2f" stroke-width="7.5"/></svg>
<div class="b" style="left:461.50px;top:208.90px;width:9.00px;height:1.00px;background:#f1f1f1"></div>
<div class="b" style="left:326.30px;top:220.20px;width:105.70px;height:1.00px;background:#d2d2d2"></div>
<svg class="b" style="left:386.40px;top:218.30px" width="4.8" height="4.8" viewBox="0 0 48 48"><circle cx="24" cy="24" r="22" fill="#fff" stroke="rgba(0,0,0,0.12)" stroke-width="2"/><circle cx="24" cy="24" r="14" fill="#0a5cb4"/></svg>
<div class="b" style="left:434.50px;top:217.70px;width:20.50px;height:6.00px;background:#fff;border-radius:0.6px"></div>
<div class="b" style="left:434.50px;top:223.20px;width:20.50px;height:1.00px;background:#e4e4e4"></div>
<div class="a" style="left:448.20px;top:220.57px;font-size:3.3px;color:#333;transform:translateX(-100%);">39</div>
<div class="a" style="left:452.60px;top:218.50px;font-size:2.0px;color:#aaa;">&#x2C4;</div>
<div class="a" style="left:452.60px;top:221.00px;font-size:2.0px;color:#aaa;">&#x2C5;</div>
<svg class="b" style="left:463.1px;top:219.20px" width="3" height="3" viewBox="0 0 30 30"><path d="M4 4L26 26M26 4L4 26" stroke="#dc2f2f" stroke-width="7.5"/></svg>
<div class="b" style="left:461.50px;top:224.20px;width:9.00px;height:1.00px;background:#f1f1f1"></div>
<div class="b" style="left:326.30px;top:235.60px;width:105.70px;height:1.00px;background:#d2d2d2"></div>
<svg class="b" style="left:409.00px;top:233.70px" width="4.8" height="4.8" viewBox="0 0 48 48"><circle cx="24" cy="24" r="22" fill="#fff" stroke="rgba(0,0,0,0.12)" stroke-width="2"/><circle cx="24" cy="24" r="14" fill="#0a5cb4"/></svg>
<div class="b" style="left:434.50px;top:233.10px;width:20.50px;height:6.00px;background:#fff;border-radius:0.6px"></div>
<div class="b" style="left:434.50px;top:238.60px;width:20.50px;height:1.00px;background:#e4e4e4"></div>
<div class="a" style="left:448.20px;top:235.97px;font-size:3.3px;color:#333;transform:translateX(-100%);">62</div>
<div class="a" style="left:452.60px;top:233.90px;font-size:2.0px;color:#aaa;">&#x2C4;</div>
<div class="a" style="left:452.60px;top:236.40px;font-size:2.0px;color:#aaa;">&#x2C5;</div>
<svg class="b" style="left:463.1px;top:234.60px" width="3" height="3" viewBox="0 0 30 30"><path d="M4 4L26 26M26 4L4 26" stroke="#dc2f2f" stroke-width="7.5"/></svg>
<div class="b" style="left:461.50px;top:239.60px;width:9.00px;height:1.00px;background:#f1f1f1"></div>
<div class="b" style="left:326.30px;top:250.90px;width:105.70px;height:1.00px;background:#ececec"></div>
<svg class="b" style="left:426.80px;top:249.00px" width="4.8" height="4.8" viewBox="0 0 48 48"><circle cx="24" cy="24" r="22" fill="#fff" stroke="rgba(0,0,0,0.12)" stroke-width="2"/><circle cx="24" cy="24" r="14" fill="#9dbfe6"/></svg>
<div class="b" style="left:434.50px;top:248.40px;width:20.50px;height:6.00px;background:#f8f8f8;border-radius:0.6px"></div>
<div class="b" style="left:434.50px;top:253.90px;width:20.50px;height:1.00px;background:#f0f0f0"></div>
<div class="a" style="left:448.20px;top:251.27px;font-size:3.3px;color:#bbb;transform:translateX(-100%);">100</div>
<div class="a" style="left:452.60px;top:249.20px;font-size:2.0px;color:#aaa;">&#x2C4;</div>
<div class="a" style="left:452.60px;top:251.70px;font-size:2.0px;color:#aaa;">&#x2C5;</div>
<svg class="b" style="left:463.1px;top:249.90px" width="3" height="3" viewBox="0 0 30 30"><path d="M4 4L26 26M26 4L4 26" stroke="#dc2f2f" stroke-width="7.5"/></svg>
<div class="b" style="left:461.50px;top:254.90px;width:9.00px;height:1.00px;background:#f1f1f1"></div>
<svg class="b" style="left:477.30px;top:183.20px" width="2.2" height="1.6" viewBox="0 0 22 16"><path d="M2 14L11 3 20 14Z" fill="#666"/></svg>
<svg class="b" style="left:477.30px;top:253.80px" width="2.2" height="1.6" viewBox="0 0 22 16"><path d="M2 2L11 13 20 2Z" fill="#666"/></svg>
<svg class="b" style="left:477.80px;top:185.50px" width="1.5" height="66.00" viewBox="0 0 15 660"><rect width="15" height="660" rx="7" fill="#6a6a6a"/></svg>
<div class="a" style="left:322.00px;top:264.37px;font-size:3.4px;color:#3a2a4a;font-weight:bold;">Preview:</div>
<div class="b" style="left:321.90px;top:268.50px;width:158.30px;height:7.40px;border-radius:1px;background:linear-gradient(90deg,#7b1fa2 0%,#9846b6 12%,#bd76cd 25%,#d6aee1 38%,#e9d8ef 48%,#f3efef 57%,#fde4c4 66%,#fcc687 78%,#f39444 90%,#e65100 100%)"></div>
<div class="a" style="left:322.00px;top:278.87px;font-size:2.8px;color:#777;">0%</div>
<div class="a" style="left:398.80px;top:278.87px;font-size:2.8px;color:#777;">50%</div>
<div class="a" style="left:473.40px;top:278.87px;font-size:2.8px;color:#b06a50;">100%</div>
<div class="b" style="left:324.00px;top:286.20px;width:18.60px;height:8.50px;background:#fdfdfd;border:0.3px solid #efefef;border-bottom:0.5px solid #dcdcdc;border-radius:1px"></div>
<div class="a" style="left:333.30px;top:290.27px;font-size:3.4px;color:#222;transform:translateX(-50%);">Add Stop</div>
<div class="b" style="left:347.60px;top:286.20px;width:14.60px;height:8.50px;background:#fdfdfd;border:0.3px solid #efefef;border-bottom:0.5px solid #dcdcdc;border-radius:1px"></div>
<div class="a" style="left:354.90px;top:290.27px;font-size:3.4px;color:#222;transform:translateX(-50%);">Reset</div>
<div class="b" style="left:367.30px;top:286.20px;width:19.10px;height:8.50px;background:#fdfdfd;border:0.3px solid #efefef;border-bottom:0.5px solid #dcdcdc;border-radius:1px"></div>
<div class="a" style="left:376.85px;top:290.27px;font-size:3.4px;color:#222;transform:translateX(-50%);">Import...</div>
<div class="b" style="left:391.50px;top:286.20px;width:19.20px;height:8.50px;background:#fdfdfd;border:0.3px solid #efefef;border-bottom:0.5px solid #dcdcdc;border-radius:1px"></div>
<div class="a" style="left:401.10px;top:290.27px;font-size:3.4px;color:#222;transform:translateX(-50%);">Export...</div>
<div class="b" style="left:438.20px;top:286.20px;width:15.60px;height:8.50px;background:#fdfdfd;border:0.3px solid #efefef;border-bottom:0.5px solid #dcdcdc;border-radius:1px"></div>
<div class="a" style="left:446.00px;top:290.27px;font-size:3.4px;color:#222;transform:translateX(-50%);">OK</div>
<div class="b" style="left:457.40px;top:286.20px;width:23.40px;height:8.50px;background:#fdfdfd;border:0.3px solid #efefef;border-bottom:0.5px solid #dcdcdc;border-radius:1px"></div>
<div class="a" style="left:469.10px;top:290.27px;font-size:3.4px;color:#222;transform:translateX(-50%);">Cancel</div>
</div></body></html>
